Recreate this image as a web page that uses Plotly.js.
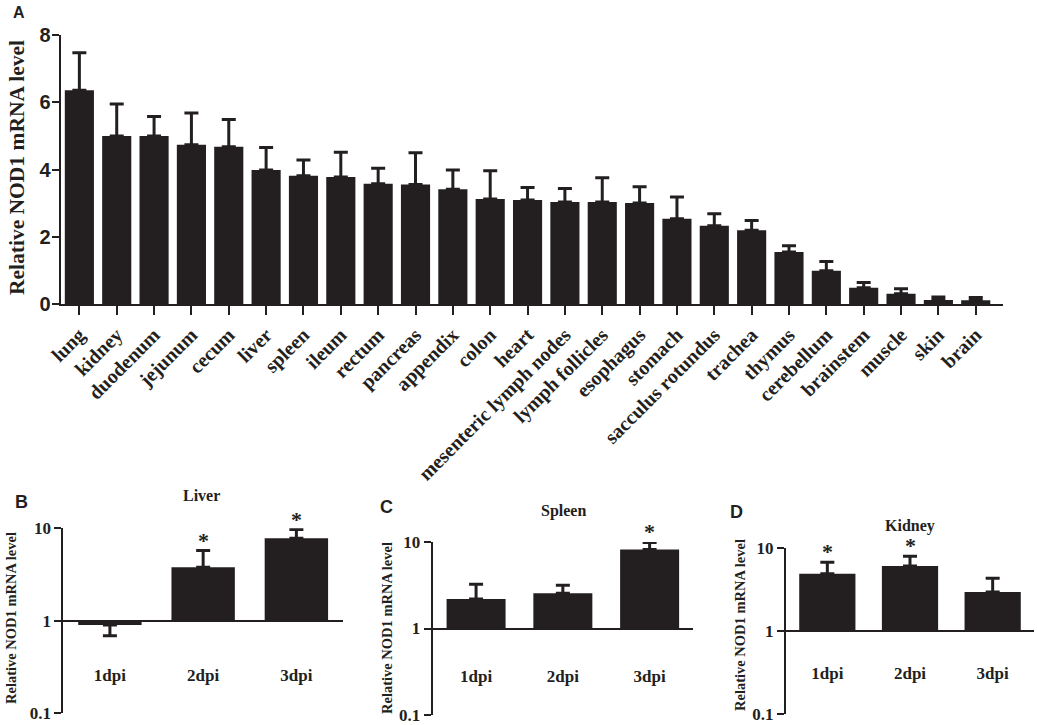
<!DOCTYPE html>
<html>
<head>
<meta charset="utf-8">
<script src="https://cdn.plot.ly/plotly-3.0.1.min.js"></script>
<style>
  html, body { margin: 0; padding: 0; background: #fff; }
  #wykres { width: 1037px; height: 725px; }
</style>
</head>
<body>
<div id="wykres"></div>
<script>
// --- DANE: panel A (tkanki) ---
const tkanki = ["lung", "kidney", "duodenum", "jejunum", "cecum", "liver", "spleen", "ileum",
    "rectum", "pancreas", "appendix", "colon", "heart", "mesenteric lymph nodes", "lymph follicles",
    "esophagus", "stomach", "sacculus rotundus", "trachea", "thymus", "cerebellum", "brainstem",
    "muscle", "skin", "brain"];
const poziomA = [6.36, 5.0, 5.0, 4.74, 4.68, 3.99, 3.82, 3.78, 3.58, 3.56, 3.42, 3.13, 3.10,
    3.04, 3.04, 3.01, 2.54, 2.33, 2.20, 1.55, 1.0, 0.49, 0.31, 0.13, 0.12];
const bladA = [1.11, 0.95, 0.58, 0.94, 0.81, 0.67, 0.47, 0.74, 0.46, 0.94, 0.57, 0.84, 0.37,
    0.40, 0.72, 0.48, 0.65, 0.36, 0.29, 0.19, 0.27, 0.16, 0.15, 0.09, 0.08];

// --- DANE: panele B, C, D (infekcja) ---
const dni = ["1dpi", "2dpi", "3dpi"];
const watroba = [0.9, 3.8, 7.8];
const watrobaBlad = [0.21, 1.95, 1.9];
const watrobaGwiazdki = [false, true, true];
const sledziona = [2.2, 2.56, 8.2];
const sledzionaBlad = [1.05, 0.6, 1.7];
const sledzionaGwiazdki = [false, false, true];
const nerka = [4.87, 6.03, 2.94];
const nerkaBlad = [1.8, 1.85, 1.35];
const nerkaGwiazdki = [true, true, false];

const W = 1037, H = 725;
const KOLOR = "#231f20";
const SERIF = "Liberation Serif, Times New Roman, serif";
const SANS = "Liberation Sans, Arial, sans-serif";

// piksele -> wspolrzedne papieru
function px(x) { return x / W; }
function py(y) { return 1 - y / H; }

const traces = [];
const annotations = [];

function napis(text, x, y, font, extra) {
    annotations.push(Object.assign({
        text: text, xref: "paper", yref: "paper", x: px(x), y: py(y),
        xanchor: "center", yanchor: "middle", showarrow: false, font: font
    }, extra || {}));
}

// --- PANEL A ---
traces.push({
    type: "bar",
    x: tkanki,
    y: poziomA,
    width: 0.78,
    marker: { color: KOLOR, line: { width: 0 } },
    error_y: { type: "data", symmetric: false, array: bladA, arrayminus: bladA.map(() => 0),
        color: KOLOR, thickness: 3, width: 7 },
    xaxis: "x", yaxis: "y",
    hoverinfo: "x+y"
});

// --- PANELE B, C, D ---
const panele = [
    { nr: 2, tytul: "Liver", litera: "B", wart: watroba, blad: watrobaBlad, gw: watrobaGwiazdki,
      xd: [63.3, 343], yd: [713.3, 528.3], tyt: [201.7, 495], lit: [21, 502], ytyt: [11, 618], lab: 672 },
    { nr: 3, tytul: "Spleen", litera: "C", wart: sledziona, blad: sledzionaBlad, gw: sledzionaGwiazdki,
      xd: [432.7, 693], yd: [715, 542], tyt: [563.3, 510.7], lit: [386.7, 506.7], ytyt: [387, 628], lab: 672 },
    { nr: 4, tytul: "Kidney", litera: "D", wart: nerka, blad: nerkaBlad, gw: nerkaGwiazdki,
      xd: [786, 1034], yd: [714.3, 547.7], tyt: [910, 525.7], lit: [736.3, 511.7], ytyt: [740, 625], lab: 670 }
];

const layout = {
    width: W, height: H,
    margin: { l: 0, r: 0, t: 0, b: 0 },
    paper_bgcolor: "#fff",
    plot_bgcolor: "rgba(0,0,0,0)",
    showlegend: false,
    xaxis: {
        domain: [px(60.7), px(1003)],
        range: [-0.5, 24.73],
        anchor: "y",
        showline: true, linecolor: KOLOR, linewidth: 2,
        ticks: "outside", ticklen: 9, tickwidth: 2, tickcolor: KOLOR,
        tickangle: -45,
        tickfont: { family: SERIF, size: 20, weight: "bold", color: KOLOR },
        showgrid: false, zeroline: false, fixedrange: true
    },
    yaxis: {
        domain: [py(304.3), py(35)],
        range: [0, 8],
        dtick: 2,
        anchor: "x",
        showline: true, linecolor: KOLOR, linewidth: 2,
        ticks: "outside", ticklen: 7, tickwidth: 2, tickcolor: KOLOR,
        ticklabelstandoff: -3,
        tickfont: { family: SANS, size: 20, weight: "bold", color: KOLOR },
        showgrid: false, zeroline: false, fixedrange: true
    },
    annotations: annotations
};

// tytul osi i litera panelu A
napis("Relative NOD1 mRNA level", 17, 168,
    { family: SERIF, size: 21.5, weight: "bold", color: KOLOR }, { textangle: -90 });
napis("A", 19, 12, { family: SANS, size: 16, weight: "bold", color: KOLOR });

panele.forEach(p => {
    const xa = "x" + p.nr, ya = "y" + p.nr;
    const yDom = [py(p.yd[0]), py(p.yd[1])];
    const osY = (p.yd[0] + p.yd[1]) / 2;   // piksel linii y = 1
    traces.push({
        type: "bar",
        x: dni,
        y: p.wart.map(v => v - 1),
        base: 1,
        width: 0.68,
        marker: { color: KOLOR, line: { width: 0 } },
        error_y: {
            type: "data", symmetric: false,
            array: p.wart.map((v, i) => v >= 1 ? p.blad[i] : 0),
            arrayminus: p.wart.map((v, i) => v < 1 ? p.blad[i] : 0),
            color: KOLOR, thickness: 3, width: 7
        },
        xaxis: xa, yaxis: ya,
        hoverinfo: "x+y"
    });

    layout["xaxis" + p.nr] = {
        domain: [px(p.xd[0]), px(p.xd[1])],
        range: [-0.5, 2.5],
        anchor: "free",
        position: (yDom[0] + yDom[1]) / 2,
        showline: true, linecolor: KOLOR, linewidth: 2,
        ticks: "", ticklabelstandoff: Math.round(p.lab - osY - 12),
        tickfont: { family: SERIF, size: 17, weight: "bold", color: KOLOR },
        showgrid: false, zeroline: false, fixedrange: true
    };
    layout["yaxis" + p.nr] = {
        domain: yDom,
        type: "log",
        range: [-1, 1],
        tickvals: [0.1, 1, 10],
        ticktext: ["0.1", "1", "10"],
        anchor: xa,
        showline: true, linecolor: KOLOR, linewidth: 2,
        ticks: "outside", ticklen: 7, tickwidth: 2, tickcolor: KOLOR,
        tickfont: { family: SERIF, size: 17, weight: "bold", color: KOLOR },
        showgrid: false, zeroline: false, fixedrange: true
    };

    // tytul panelu, litera, tytul osi y
    napis(p.tytul, p.tyt[0], p.tyt[1], { family: SERIF, size: 16, weight: "bold", color: KOLOR });
    napis(p.litera, p.lit[0], p.lit[1], { family: SANS, size: 18, weight: "bold", color: KOLOR });
    napis("Relative NOD1 mRNA level", p.ytyt[0], p.ytyt[1],
        { family: SERIF, size: 14.5, weight: "bold", color: KOLOR }, { textangle: -90 });

    // gwiazdki istotnosci nad slupkami bledu
    p.gw.forEach((g, i) => {
        if (!g) return;
        annotations.push({
            text: "*", xref: xa, yref: ya, x: dni[i],
            y: Math.log10(p.wart[i] + p.blad[i]),
            xanchor: "center", yanchor: "bottom", yshift: -4, showarrow: false,
            font: { family: SERIF, size: 22, weight: "bold", color: KOLOR }
        });
    });
});

Plotly.newPlot("wykres", traces, layout, { displayModeBar: false, staticPlot: true });
</script>
</body>
</html>
